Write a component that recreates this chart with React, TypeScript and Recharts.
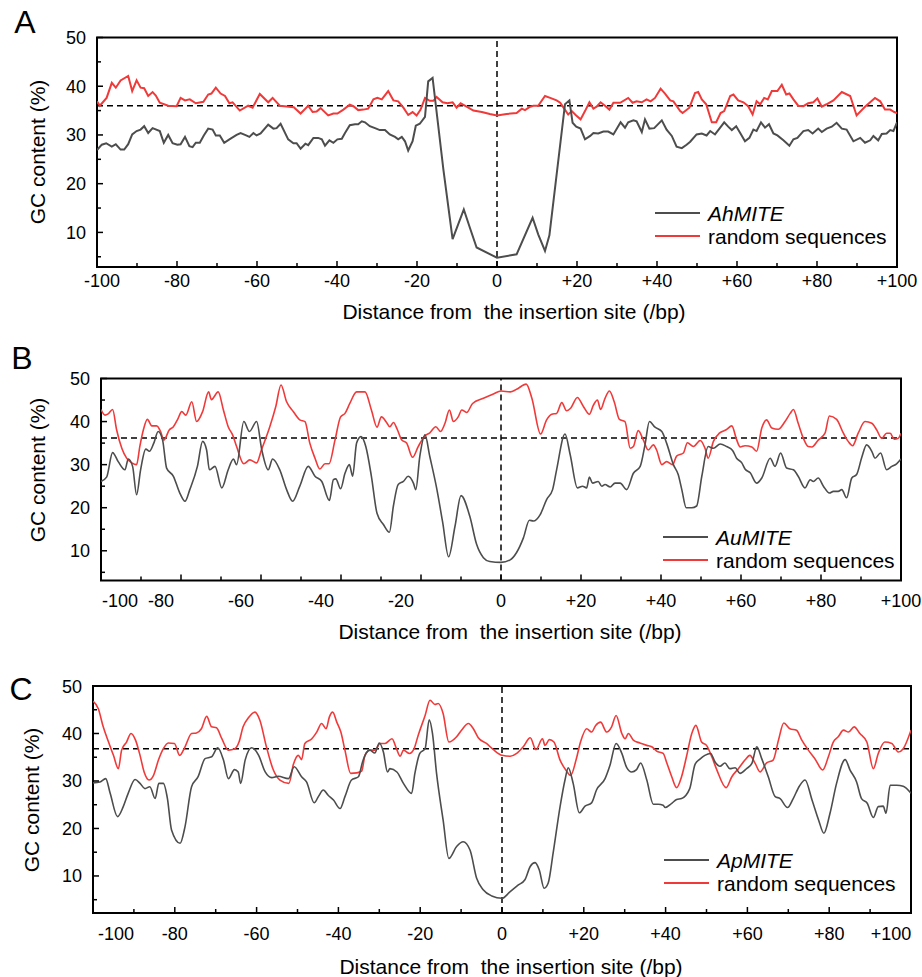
import React from "react";
import { LineChart, Line, XAxis, YAxis, ReferenceLine, ReferenceArea } from "recharts";

type Pt = [number, number];

const xTicks = [-100, -90, -80, -70, -60, -50, -40, -30, -20, -10, 0, 10, 20, 30, 40, 50, 60, 70, 80, 90, 100];
const yTicks = [5, 10, 15, 20, 25, 30, 35, 40, 45, 50];
const yLabels = [10, 20, 30, 40, 50];

// panel A
const ahMite: Pt[] = [
  [-100, 26.9], [-98.8, 28.0], [-97.7, 28.3], [-96.3, 27.6], [-95.3, 28.1], [-94.1, 27.0], [-93.2, 27.0], [-92.2, 28.1],
  [-91.2, 30.1], [-90.1, 30.8], [-89.1, 31.1], [-88.2, 31.8], [-87.2, 30.4], [-86.1, 31.4], [-84.3, 30.8], [-83.3, 28.4],
  [-82.2, 30.0], [-81.1, 28.3], [-79.9, 28.0], [-79.1, 28.1], [-78, 29.6], [-76.9, 27.7], [-76.1, 27.5], [-75.3, 28.4],
  [-74.3, 28.4], [-73.3, 29.9], [-72.2, 31.3], [-71.1, 31.1], [-70.3, 29.9], [-69.3, 29.9], [-68.2, 28.4], [-66.9, 29.1],
  [-65.1, 30.0], [-64.1, 30.4], [-63, 30.0], [-61.9, 29.6], [-60.9, 30.4], [-60.1, 29.9], [-59.1, 30.3], [-57.2, 32.1],
  [-55.9, 31.3], [-55.1, 31.4], [-54.1, 32.3], [-52.2, 29.1], [-50.9, 28.3], [-50.1, 28.3], [-49.1, 27.2], [-47.9, 28.2],
  [-47.2, 27.9], [-45.9, 29.4], [-44.7, 29.4], [-43.8, 29.1], [-43, 27.8], [-41.9, 28.9], [-40.9, 28.4], [-39.9, 29.1],
  [-38.8, 29.2], [-38, 30.4], [-36.8, 32.0], [-35.5, 32.2], [-34.7, 32.2], [-33.8, 32.8], [-33, 32.6], [-31.8, 31.8],
  [-30.5, 31.4], [-29.3, 31.0], [-28, 31.0], [-26.8, 30.1], [-25.5, 29.6], [-24.7, 29.1], [-23.8, 29.6], [-23, 28.7],
  [-22.2, 26.8], [-21.1, 28.7], [-20.3, 31.9], [-19.3, 32.3], [-18, 33.7], [-17.2, 41.0], [-16.1, 41.7], [-13.4, 22.9],
  [-11.1, 8.6], [-8.3, 14.7], [-6.8, 11.0], [-5.1, 6.9], [0, 4.8], [4.9, 5.5], [8.9, 13.0], [10.3, 9.6], [12, 6.2],
  [13.1, 9.4], [17, 36.3], [18.1, 37.1], [18.9, 32.5], [19.8, 31.7], [20.9, 31.3], [22, 29.1], [23.3, 29.8], [24.1, 30.4],
  [25.3, 30.3], [26.6, 30.7], [27.8, 30.7], [29.1, 30.1], [30.9, 32.6], [32, 31.5], [32.8, 32.6], [34.1, 33.0], [34.9, 32.8],
  [36.2, 30.6], [37, 33.2], [38.1, 31.3], [39.3, 31.4], [41.2, 33.0], [42.4, 31.1], [43.7, 29.8], [44.9, 27.6], [46.2, 27.3],
  [47.4, 28.0], [48.3, 28.6], [49.9, 30.1], [51.2, 30.3], [52.4, 29.9], [53.3, 30.8], [54.5, 30.1], [55.8, 31.5], [56.8, 32.6],
  [57.8, 31.7], [58.7, 31.0], [59.8, 31.8], [60.8, 30.4], [62, 28.7], [63.1, 29.4], [64.1, 31.1], [64.9, 30.8], [66, 32.6],
  [67, 31.5], [68, 32.2], [69.1, 30.3], [70.1, 29.9], [71.6, 28.9], [73.1, 27.8], [74.1, 29.1], [75.1, 29.4], [76.6, 30.8],
  [77.8, 31.0], [78.9, 30.3], [80.3, 31.3], [81.2, 30.6], [82.4, 31.3], [83.7, 31.7], [84.9, 32.5], [86.2, 31.3], [87.4, 31.1],
  [89.1, 28.7], [90.8, 29.4], [92, 28.4], [93.3, 28.9], [94.1, 29.8], [95.3, 28.9], [96.2, 30.2], [97.4, 30.3], [98.3, 31.0],
  [99.1, 30.8], [100, 32.6],
];
const randomA: Pt[] = [
  [-100, 36.9], [-99.3, 36.0], [-97.6, 37.6], [-96.3, 40.7], [-95.3, 39.7], [-94.1, 41.2], [-92.2, 42.1], [-91.2, 39.0],
  [-90.1, 41.2], [-89.1, 39.7], [-88.2, 39.6], [-87.2, 38.0], [-86.1, 38.8], [-85.3, 38.1], [-84.3, 36.6], [-82.2, 36.0],
  [-80.1, 35.9], [-79.1, 37.6], [-78, 37.1], [-76.8, 37.3], [-75.3, 36.5], [-73.4, 36.8], [-72.2, 38.3], [-71.4, 38.5],
  [-70.3, 39.7], [-69.1, 38.5], [-68, 38.0], [-66.9, 36.5], [-66.1, 36.7], [-64.3, 35.0], [-62.2, 36.0], [-61.1, 35.6],
  [-59.3, 38.4], [-57.2, 36.7], [-56.1, 37.6], [-54.3, 36.0], [-50.8, 35.7], [-49.1, 34.4], [-47.2, 36.0], [-46.1, 34.7],
  [-45.1, 34.8], [-44.1, 35.5], [-42.2, 34.0], [-40.9, 34.4], [-39.9, 34.4], [-38.4, 35.2], [-36.8, 36.2], [-35.9, 35.9],
  [-34.7, 35.1], [-33.4, 35.2], [-32.2, 35.4], [-30.9, 37.3], [-29.9, 37.6], [-28.8, 37.3], [-27.2, 39.0], [-25.9, 37.1],
  [-24.7, 36.9], [-23.4, 35.6], [-22.2, 34.1], [-21.1, 34.7], [-20.1, 34.0], [-19.1, 35.2], [-18, 37.6], [-16.8, 37.0],
  [-15.9, 37.0], [-15.1, 37.8], [-13.6, 36.7], [-12.4, 36.5], [-11.1, 36.7], [-10.1, 35.6], [-9.1, 36.5], [-7.6, 35.8],
  [-5.9, 35.0], [-3.8, 34.7], [-1.8, 34.3], [0, 34.0], [2.4, 34.3], [4.9, 34.5], [6.2, 35.4], [7, 35.1], [8.3, 35.8],
  [9.1, 36.0], [10.3, 36.0], [12, 38.0], [13.3, 37.6], [14.9, 37.1], [15.8, 36.6], [16.8, 35.4], [17.8, 34.2], [18.7, 34.9],
  [19.8, 34.0], [20.9, 33.2], [22, 34.9], [23.1, 36.7], [24.1, 35.4], [24.9, 35.8], [25.9, 36.7], [27, 36.0], [28.1, 35.2],
  [29.1, 36.6], [30.8, 36.6], [32.8, 37.6], [33.9, 36.6], [34.9, 36.9], [36.2, 36.7], [37.4, 37.3], [38.4, 36.9],
  [39.5, 37.6], [40.9, 39.5], [42, 38.5], [43.3, 37.1], [44.1, 36.9], [45.8, 34.9], [46.4, 34.5], [48.1, 35.6],
  [49.5, 38.6], [50.3, 38.8], [51.2, 37.3], [52.3, 36.3], [53.7, 32.6], [54.8, 32.6], [55.9, 34.5], [56.8, 34.9],
  [58.3, 38.0], [59.1, 38.3], [60.3, 37.1], [61.6, 36.7], [62.8, 35.9], [63.9, 34.2], [64.9, 36.9], [65.8, 36.3],
  [66.8, 37.6], [67.7, 37.3], [68.7, 39.0], [70.1, 39.0], [71.2, 40.3], [72.3, 38.3], [73.1, 38.5], [74.1, 37.3],
  [75.3, 36.0], [76.6, 35.9], [77.8, 36.5], [79.1, 36.7], [80.1, 37.5], [81.2, 35.8], [82.4, 36.3], [84.1, 37.1],
  [86.2, 38.8], [88.3, 38.0], [89.9, 34.0], [92, 35.8], [94.5, 37.6], [95.8, 36.9], [97, 35.2], [98.3, 35.2],
  [99.3, 34.7], [100, 34.5],
];

// panel B
const auMite: Pt[] = [
  [-100, 26.1], [-98.6, 27.1], [-97.1, 32.8], [-95.7, 30.7], [-94, 28.8], [-93.2, 31.3], [-92.1, 29.6], [-91.1, 23.0],
  [-90.1, 28.8], [-88.8, 33.6], [-87.9, 33.1], [-86.8, 35.0], [-85.7, 37.7], [-84.6, 35.7], [-83.6, 29.2], [-81.9, 27.3],
  [-80.3, 23.4], [-79, 21.5], [-77.8, 24.2], [-75.9, 29.6], [-74.6, 35.4], [-73.6, 33.4], [-72.9, 28.8], [-71.5, 29.6],
  [-69.8, 24.6], [-68.2, 28.8], [-66.9, 31.3], [-66.1, 30.0], [-64.3, 40.0], [-62.9, 37.7], [-61.1, 40.0], [-59.8, 33.4],
  [-58.2, 28.8], [-57.1, 31.3], [-55.3, 28.8], [-53.6, 24.2], [-52.1, 21.5], [-50.3, 25.0], [-48.2, 29.6], [-46.5, 27.3],
  [-44.8, 26.1], [-42.9, 21.7], [-41.9, 26.5], [-41.3, 26.7], [-40.1, 24.4], [-39, 28.0], [-37.9, 30.0], [-37.1, 27.3],
  [-36.1, 35.0], [-35, 36.5], [-33.8, 34.2], [-32.4, 27.3], [-31, 18.7], [-29.4, 16.1], [-27.9, 14.3], [-26.9, 20.4],
  [-25.7, 25.4], [-24.4, 26.1], [-23.2, 27.3], [-21.9, 25.7], [-21.3, 24.2], [-20.3, 31.9], [-19, 36.9], [-17.8, 31.9],
  [-16.1, 24.6], [-14.6, 16.7], [-13.1, 8.6], [-11.5, 15.7], [-10, 22.8], [-7.8, 18.0], [-6.1, 11.5], [-4.4, 8.4],
  [-2.8, 7.5], [0, 7.3], [2.3, 7.9], [3.9, 9.6], [5.6, 13.0], [7.1, 17.1], [8.1, 16.9], [9.8, 18.4], [11.4, 21.9],
  [12.9, 24.2], [13.9, 28.8], [16, 37.1], [17.3, 32.3], [19.1, 24.6], [20.4, 25.0], [21.4, 24.6], [22.1, 27.1],
  [22.9, 25.7], [24.3, 26.1], [25.2, 25.0], [26, 25.4], [27.3, 24.8], [28.5, 25.7], [29.8, 25.7], [31.4, 24.2],
  [33.1, 28.0], [34.8, 29.6], [36, 34.6], [37.1, 40.0], [38.5, 38.7], [40.2, 37.7], [41.4, 35.0], [43.1, 30.0],
  [44.3, 27.7], [45.2, 24.2], [46.3, 20.0], [47.7, 20.0], [48.9, 20.4], [50.2, 27.3], [51.8, 34.2], [53.1, 33.8],
  [54.8, 34.8], [56.4, 34.2], [57.9, 33.3], [58.9, 31.5], [60.2, 30.4], [61, 29.0], [62.3, 28.1], [63.9, 25.7],
  [65.2, 26.9], [67.3, 31.5], [68.5, 29.6], [69.9, 32.7], [71.4, 29.2], [73.1, 28.8], [74.3, 27.3], [76, 24.6],
  [77.3, 26.5], [78.1, 26.1], [79.3, 26.9], [80.6, 25.0], [82.1, 23.4], [83.1, 23.8], [84.3, 23.8], [85.2, 24.2],
  [86.4, 22.3], [87.7, 26.9], [88.9, 27.7], [90.2, 31.7], [91.4, 34.6], [92.7, 33.1], [93.5, 31.5], [94.9, 32.7],
  [96.4, 28.8], [97.7, 29.6], [98.9, 30.2], [100, 31.3],
];
const randomB: Pt[] = [
  [-100, 42.8], [-99, 41.5], [-98.2, 41.8], [-97.1, 42.8], [-96.1, 38.1], [-94.8, 33.8], [-93.6, 31.5], [-92.3, 30.4],
  [-91.1, 30.0], [-90.3, 34.2], [-89.4, 38.1], [-88.4, 40.5], [-87.3, 39.0], [-86.1, 39.0], [-85.1, 37.7], [-84.3, 35.7],
  [-82.9, 38.1], [-81.9, 38.8], [-80.9, 40.4], [-79.8, 42.3], [-78.8, 41.5], [-77.3, 44.6], [-76.1, 40.0], [-74.6, 42.3],
  [-73.1, 46.9], [-72.4, 45.1], [-70.7, 46.9], [-69.4, 42.7], [-68.2, 38.8], [-67.1, 36.9], [-66.1, 34.2], [-64.3, 30.2],
  [-62.8, 31.1], [-61.1, 30.4], [-59.9, 33.4], [-57.8, 38.8], [-56.3, 43.5], [-55, 48.5], [-53.6, 44.6], [-51.9, 42.3],
  [-50.3, 40.4], [-49, 40.0], [-47.8, 35.0], [-46.5, 31.5], [-45.3, 29.0], [-44, 30.2], [-43, 30.2], [-41.5, 35.7],
  [-40.1, 41.1], [-39, 41.9], [-37.8, 44.2], [-36.1, 46.9], [-34, 46.9], [-32.4, 42.7], [-31, 38.7], [-29.9, 41.1],
  [-28.6, 39.8], [-27.8, 38.8], [-26.9, 39.8], [-25.9, 38.1], [-24.8, 35.7], [-23.6, 35.0], [-22.1, 31.7], [-20.7, 34.2],
  [-19, 36.7], [-17.8, 37.4], [-16.3, 38.8], [-15.1, 37.7], [-14, 39.6], [-12.9, 42.7], [-11.9, 40.0], [-10.7, 41.1],
  [-9.8, 42.7], [-8.6, 42.1], [-7.1, 44.2], [-4.4, 45.4], [-1.9, 46.4], [0, 47.1], [2.3, 46.9], [3.9, 47.5], [6.3, 48.7],
  [7.7, 45.5], [9.9, 37.1], [11.4, 40.4], [12.7, 41.7], [13.9, 41.9], [15.2, 44.4], [16.4, 42.5], [17.4, 43.1],
  [19.1, 45.6], [20.6, 43.5], [22.1, 41.7], [23.1, 43.8], [24.1, 45.0], [24.9, 42.8], [26, 45.4], [27.1, 47.1],
  [28.3, 44.6], [29.6, 40.5], [31, 40.0], [32.3, 33.8], [33.1, 34.2], [34.3, 37.9], [35.6, 35.7], [36.8, 33.4],
  [38.1, 34.6], [38.9, 33.4], [40.2, 30.0], [41.4, 30.7], [42.9, 30.0], [43.9, 32.0], [45.6, 32.7], [46.6, 35.1],
  [48.1, 34.2], [49.8, 35.6], [51, 33.8], [51.8, 31.5], [53.1, 35.4], [54.6, 37.3], [56.3, 38.1], [57.7, 39.0],
  [58.9, 35.8], [59.8, 34.1], [61, 34.4], [62.7, 34.1], [63.9, 33.1], [65.2, 38.5], [66.4, 40.4], [67.7, 38.5],
  [69.3, 38.2], [71, 40.0], [72.3, 41.9], [73.1, 42.8], [74.3, 39.6], [75.6, 36.1], [76.8, 34.2], [77.7, 34.1],
  [79.3, 35.7], [81, 37.3], [82.1, 41.3], [83.9, 40.5], [85.6, 37.3], [86.8, 35.4], [87.9, 34.4], [89.3, 37.3],
  [91, 40.0], [92.7, 39.6], [93.9, 38.1], [95.2, 36.1], [96.4, 37.3], [97.3, 37.3], [98.3, 35.9], [99.3, 36.1],
  [100, 37.3],
];

// panel C
const apMite: Pt[] = [
  [-100, 29.6], [-98.3, 29.8], [-96.9, 30.5], [-95.8, 27.4], [-94, 22.5], [-92.6, 24.6], [-91.4, 27.4], [-89.7, 30.3],
  [-88.5, 29.5], [-87.3, 28.4], [-86.1, 28.8], [-84.8, 26.3], [-83.9, 29.5], [-82.8, 29.5], [-81.8, 26.3], [-80.8, 19.7],
  [-78.7, 16.9], [-77.5, 20.4], [-75.9, 28.8], [-74.3, 30.9], [-72.6, 34.7], [-71, 35.1], [-69.5, 37.0], [-68.1, 34.4],
  [-66.9, 30.5], [-65.4, 32.4], [-64.5, 31.9], [-63.9, 29.5], [-62.8, 34.4], [-61.2, 37.0], [-59.5, 35.4], [-57.9, 31.9],
  [-56.3, 30.7], [-54.7, 31.0], [-52.2, 30.5], [-50.8, 33.0], [-49, 30.9], [-47.8, 29.8], [-45.9, 25.4], [-44.9, 26.7],
  [-43.7, 28.1], [-42.5, 27.0], [-41.2, 26.0], [-39.6, 24.2], [-38.4, 26.7], [-36.8, 30.2], [-35.1, 30.9], [-34.1, 34.0],
  [-33.2, 35.9], [-32.3, 36.5], [-31.1, 35.9], [-30, 38.0], [-29, 36.1], [-28, 31.9], [-27.4, 32.6], [-25.7, 31.9],
  [-24.1, 29.5], [-22.1, 27.4], [-21.3, 31.6], [-20.1, 35.8], [-18.8, 36.8], [-17.8, 42.9], [-17, 40.0], [-16, 31.6],
  [-14.4, 21.8], [-13, 13.7], [-11.1, 16.2], [-9.5, 17.2], [-7.8, 15.4], [-6.2, 9.5], [-4.6, 7.1], [-2.5, 5.8],
  [0, 5.3], [2, 6.7], [4, 8.1], [5.6, 9.2], [6.9, 12.0], [8.1, 12.8], [9.1, 11.3], [10.3, 7.4], [11.3, 8.5], [12.5, 14.8],
  [14.2, 24.6], [15.4, 30.2], [16.2, 32.8], [17.4, 29.5], [18.9, 23.3], [20.3, 24.7], [21.9, 25.4], [23.1, 28.1],
  [25.2, 30.5], [26.4, 33.3], [27.9, 37.9], [29.3, 35.8], [30.5, 32.8], [31.7, 31.9], [32.9, 32.4], [33.9, 33.8],
  [35.4, 30.2], [37, 25.1], [38.2, 25.1], [39.4, 24.9], [39.9, 24.4], [41.5, 25.3], [42.7, 26.1], [43.9, 26.3],
  [45.9, 28.4], [47.2, 33.5], [48.4, 34.6], [49.6, 35.4], [51, 35.8], [52.1, 34.0], [53.3, 33.1], [54.5, 33.8],
  [55.7, 32.6], [57, 32.8], [58.2, 31.6], [59.8, 32.6], [61.1, 33.7], [62.3, 37.2], [63.5, 34.7], [65.1, 30.9],
  [66.8, 26.7], [68, 26.3], [69.8, 24.4], [71.2, 26.3], [72.7, 28.9], [74.1, 30.2], [75.8, 26.0], [77.4, 21.8],
  [78.7, 19.0], [80.2, 23.2], [81.8, 29.5], [83.9, 34.5], [85.1, 32.3], [86.7, 29.8], [87.9, 26.3], [89.3, 25.3],
  [90.8, 22.3], [92, 24.6], [93.2, 24.7], [93.9, 23.2], [94.9, 29.1], [96.5, 29.1], [98.1, 28.9], [100, 27.4],
];
const randomC: Pt[] = [
  [-100, 46.8], [-98.7, 45.2], [-97.5, 41.4], [-96.2, 38.2], [-95, 35.4], [-93.8, 32.6], [-93, 36.5], [-91.8, 38.2],
  [-90.7, 40.0], [-89.6, 38.6], [-88.5, 35.4], [-87.5, 31.9], [-86.3, 30.2], [-85.2, 31.2], [-84, 34.4], [-82.8, 36.8],
  [-81.6, 38.0], [-80.1, 37.9], [-78.8, 35.4], [-77.5, 37.2], [-75.9, 40.0], [-74.7, 40.1], [-73.5, 41.0], [-72.2, 43.6],
  [-71, 41.4], [-69.8, 41.2], [-68.5, 38.9], [-66.9, 36.5], [-65.3, 36.8], [-64.3, 38.2], [-63.3, 41.4], [-62, 43.3],
  [-60.4, 44.5], [-59.2, 42.8], [-57.6, 37.2], [-55.9, 32.3], [-54.3, 30.2], [-52.1, 29.5], [-51, 33.5], [-49.8, 35.4],
  [-49, 34.5], [-48.2, 37.9], [-46.5, 38.9], [-45.3, 40.3], [-44.1, 42.1], [-43, 41.0], [-42.2, 43.5], [-41.4, 44.5],
  [-40.4, 42.4], [-39.4, 40.3], [-38.4, 36.5], [-37, 31.6], [-35.5, 31.7], [-34.3, 32.1], [-33.5, 35.4], [-32.3, 36.5],
  [-31.1, 36.5], [-29.8, 37.9], [-28.6, 37.9], [-26.9, 38.9], [-25.8, 36.8], [-24.9, 35.2], [-24.1, 36.5], [-22.6, 35.8],
  [-21.5, 36.8], [-20.5, 39.6], [-18.8, 43.8], [-17.6, 47.0], [-16.4, 46.1], [-15.6, 46.3], [-14.4, 44.2], [-13, 38.2],
  [-11.1, 39.3], [-9.9, 40.7], [-8.2, 42.1], [-7, 41.0], [-5.8, 39.1], [-3.8, 37.9], [-2.1, 36.6], [0, 35.4],
  [2, 35.2], [3.6, 35.8], [5.2, 37.2], [6.9, 39.1], [8.3, 36.6], [9.9, 38.9], [10.5, 37.5], [11.6, 38.7], [12.7, 38.2],
  [14.2, 34.4], [15.6, 32.3], [16.8, 31.2], [18.1, 34.4], [19.2, 38.2], [20.7, 41.0], [21.9, 40.3], [22.9, 41.7],
  [24.1, 42.4], [25.6, 40.3], [26.8, 41.4], [27.9, 43.8], [29.3, 40.0], [30.1, 38.9], [30.9, 40.0], [32.1, 38.6],
  [33.7, 38.0], [35.4, 37.5], [36.6, 37.2], [37.8, 36.3], [39.4, 35.8], [40.3, 33.8], [41.5, 30.9], [42.7, 28.6],
  [43.9, 30.9], [45.1, 35.1], [46.4, 40.0], [47.4, 41.7], [48.8, 38.2], [50, 37.5], [51.3, 35.1], [52.5, 32.4],
  [54.8, 28.6], [56.2, 30.9], [57.8, 32.6], [59.4, 34.4], [60.6, 35.4], [61.9, 33.7], [63.1, 31.9], [64.7, 33.8],
  [66.3, 34.4], [67.6, 38.6], [68.9, 42.2], [70.4, 41.0], [72, 40.7], [73.3, 38.6], [74.9, 36.5], [76.5, 34.7],
  [78.4, 32.3], [79.8, 35.1], [81, 38.2], [82.2, 39.3], [83.5, 40.7], [84.7, 40.3], [86.1, 41.4], [87.5, 40.0],
  [89.2, 38.2], [90.8, 32.6], [92, 35.8], [93.6, 38.2], [95.3, 37.9], [96.9, 36.1], [98.1, 36.8], [100, 40.7],
];

const FONT = "Arial, 'Liberation Sans', sans-serif";
const GRAY = "#4d4d4d";
const RED = "#f03a3a";

const toRows = (pts: Pt[]) => pts.map(([x, y]) => ({ x, y }));

const makeXTick = (labelDy: number, shift: Record<number, number>) => ({ x, y, payload }: any) => {
  const v = payload.value;
  const major = v % 20 === 0;
  const label = v > 0 ? `+${v}` : `${v}`;
  return (
    <g>
      <line x1={x} x2={x} y1={y} y2={y - (major ? 6 : 4)} stroke="#000" strokeWidth={1.5} />
      {major && (
        <text x={x + (shift[v] || 0)} y={y + labelDy} textAnchor="middle" fontSize={18} fontFamily={FONT} fill="#000">
          {label}
        </text>
      )}
    </g>
  );
};

const YTick = ({ x, y, payload }: any) => {
  const v = payload.value;
  const major = yLabels.includes(v);
  return (
    <g>
      <line x1={x} x2={x + (major ? 6 : 4)} y1={y} y2={y} stroke="#000" strokeWidth={1.5} />
      {major && (
        <text x={x - 11} y={y + 6.5} textAnchor="end" fontSize={18} fontFamily={FONT} fill="#000">
          {v}
        </text>
      )}
    </g>
  );
};

interface PanelProps {
  top: number;
  height: number;
  plot: { left: number; right: number; top: number; bottom: number };
  yMin: number;
  baseline: number;
  mite: Pt[];
  random: Pt[];
  curve: "linear" | "monotone";
  lineWidth: number;
  labelDy: number;
  shift: Record<number, number>;
}

function Panel({ top, height, plot, yMin, baseline, mite, random, curve, lineWidth, labelDy, shift }: PanelProps) {
  const margin = {
    top: plot.top - top,
    left: plot.left - 60,
    right: 922 - plot.right,
    bottom: top + height - plot.bottom - 30,
  };
  const XTick = makeXTick(labelDy, shift);
  return (
    <div style={{ position: "absolute", left: 0, top, width: 922, height }}>
      <LineChart width={922} height={height} margin={margin}>
        <XAxis
          type="number"
          dataKey="x"
          domain={[-100, 100]}
          ticks={xTicks}
          interval={0}
          tick={<XTick />}
          tickSize={0}
          tickMargin={0}
          axisLine={false}
          tickLine={false}
          allowDataOverflow
        />
        <YAxis
          type="number"
          dataKey="y"
          domain={[yMin, 50]}
          ticks={yTicks}
          interval={0}
          tick={<YTick />}
          tickSize={0}
          tickMargin={0}
          axisLine={false}
          tickLine={false}
          width={60}
          allowDataOverflow
        />
        <ReferenceArea x1={-100} x2={100} y1={yMin} y2={50} fill="none" stroke="#000" strokeWidth={2} ifOverflow="visible" />
        <ReferenceLine y={baseline} stroke="#000" strokeWidth={1.5} strokeDasharray="6 4" />
        <ReferenceLine x={0} stroke="#000" strokeWidth={1.5} strokeDasharray="6 4" />
        <Line data={toRows(random)} dataKey="y" type={curve} stroke={RED} strokeWidth={lineWidth} dot={false} isAnimationActive={false} />
        <Line data={toRows(mite)} dataKey="y" type={curve} stroke={GRAY} strokeWidth={lineWidth} dot={false} isAnimationActive={false} />
      </LineChart>
    </div>
  );
}

const Text = ({ x, y, size, children, italic, rotate, anchor }: any) => (
  <div
    style={{
      position: "absolute",
      left: x,
      top: y,
      fontSize: size,
      fontFamily: FONT,
      fontStyle: italic ? "italic" : "normal",
      whiteSpace: "pre",
      lineHeight: 1,
      transform: `translate(${anchor === "start" ? "0" : "-50%"}, -50%)${rotate ? " rotate(-90deg)" : ""}`,
      color: "#000",
    }}
  >
    {children}
  </div>
);

const LegendBox = ({ x, y, name }: { x: number; y: number; name: string }) => (
  <>
    <div style={{ position: "absolute", left: x, top: y - 1, width: 45, height: 2, background: GRAY }} />
    <div style={{ position: "absolute", left: x, top: y + 22, width: 45, height: 2, background: RED }} />
    <Text x={x + 53} y={y} size={21} italic anchor="start">{name}</Text>
    <Text x={x + 53} y={y + 23} size={21} anchor="start">random sequences</Text>
  </>
);

export default function App() {
  const xTitle = "Distance from  the insertion site (/bp)";
  return (
    <div style={{ position: "absolute", left: 0, top: 0, width: 922, height: 977, background: "#fff", overflow: "hidden" }}>
      <Panel top={0} height={320} plot={{ left: 97, right: 897, top: 37.5, bottom: 267 }} yMin={2.9} baseline={36}
        mite={ahMite} random={randomA} curve="linear" lineWidth={2} labelDy={20} shift={{ [-100]: 5 }} />
      <Panel top={330} height={320} plot={{ left: 101, right: 901, top: 378.5, bottom: 580.5 }} yMin={3.1} baseline={36.2}
        mite={auMite} random={randomB} curve="monotone" lineWidth={1.6} labelDy={26}
        shift={{ [-100]: 19, [-80]: -20, [-60]: -20, [-40]: -20, [-20]: -20 }} />
      <Panel top={660} height={317} plot={{ left: 93, right: 911, top: 686, bottom: 913 }} yMin={2.2} baseline={36.8}
        mite={apMite} random={randomC} curve="monotone" lineWidth={1.6} labelDy={27} shift={{ [-100]: 23, 100: -20 }} />

      <Text x={25} y={22} size={32}>A</Text>
      <Text x={22} y={358} size={32}>B</Text>
      <Text x={21} y={689} size={32}>C</Text>

      <Text x={37} y={152} size={21} rotate>GC content (%)</Text>
      <Text x={37} y={470} size={21} rotate>GC content (%)</Text>
      <Text x={31} y={800} size={21} rotate>GC content (%)</Text>

      <Text x={514} y={311} size={21}>{xTitle}</Text>
      <Text x={510} y={631} size={21}>{xTitle}</Text>
      <Text x={511} y={966} size={21}>{xTitle}</Text>

      <LegendBox x={655} y={213} name="AhMITE" />
      <LegendBox x={663} y={537} name="AuMITE" />
      <LegendBox x={664} y={860} name="ApMITE" />
    </div>
  );
}
